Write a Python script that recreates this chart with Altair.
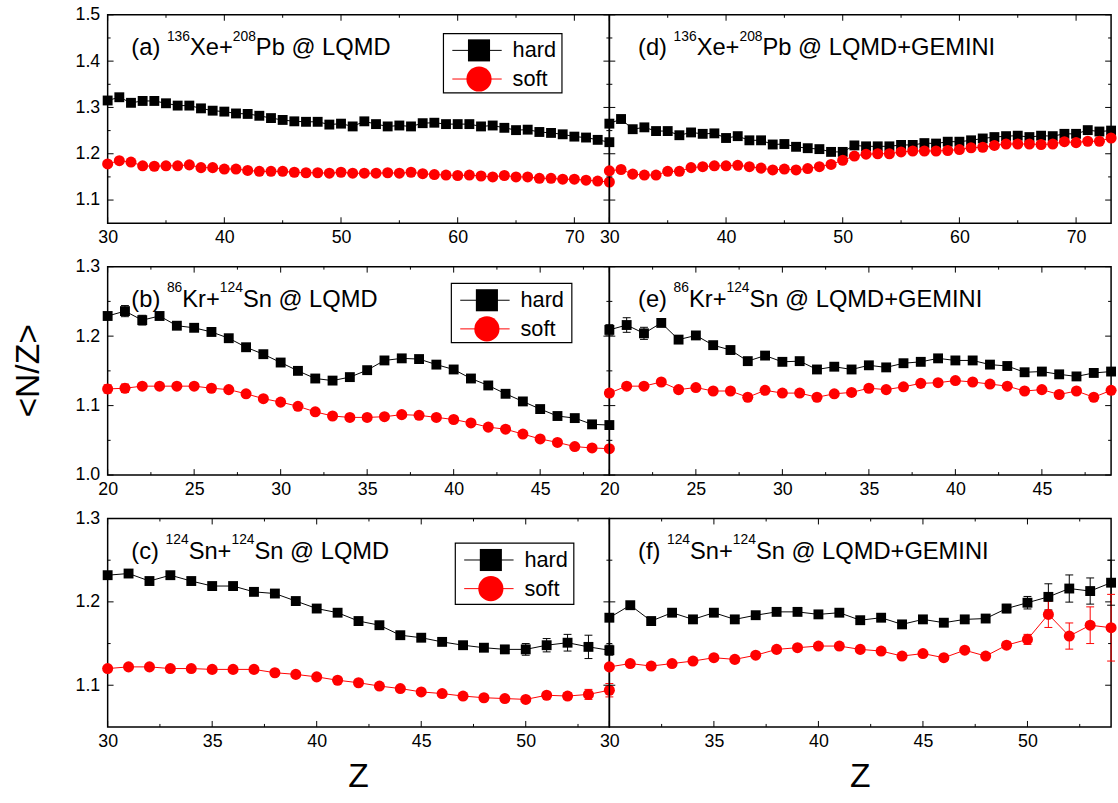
import altair as alt
import pandas as pd

FONT = "Liberation Sans"

# ---------------- data ----------------
Z_A = list(range(30, 74))
A_hard = [1.315, 1.322, 1.310, 1.314, 1.314, 1.309, 1.304, 1.304, 1.298, 1.293, 1.291, 1.287, 1.286, 1.282,
          1.277, 1.273, 1.270, 1.269, 1.269, 1.263, 1.265, 1.259, 1.270, 1.264, 1.259, 1.261, 1.259, 1.266,
          1.267, 1.264, 1.264, 1.264, 1.259, 1.261, 1.256, 1.251, 1.252, 1.247, 1.245, 1.242, 1.237, 1.235,
          1.230, 1.225]
A_soft = [1.178, 1.185, 1.182, 1.174, 1.173, 1.174, 1.174, 1.176, 1.170, 1.170, 1.167, 1.167, 1.164, 1.162,
          1.162, 1.162, 1.160, 1.159, 1.159, 1.158, 1.160, 1.158, 1.158, 1.158, 1.159, 1.158, 1.160, 1.157,
          1.155, 1.154, 1.153, 1.154, 1.152, 1.150, 1.153, 1.150, 1.150, 1.147, 1.147, 1.145, 1.145, 1.143,
          1.141, 1.139]
D_hard = [1.265, 1.275, 1.253, 1.257, 1.249, 1.249, 1.240, 1.246, 1.243, 1.244, 1.234, 1.238, 1.229, 1.229,
          1.220, 1.221, 1.215, 1.212, 1.210, 1.204, 1.204, 1.218, 1.216, 1.216, 1.216, 1.219, 1.219, 1.223,
          1.222, 1.226, 1.226, 1.229, 1.233, 1.236, 1.238, 1.239, 1.236, 1.239, 1.238, 1.243, 1.243, 1.251,
          1.248, 1.250]
D_soft = [1.163, 1.166, 1.156, 1.154, 1.154, 1.162, 1.162, 1.170, 1.172, 1.174, 1.174, 1.175, 1.172, 1.169,
          1.165, 1.167, 1.165, 1.168, 1.172, 1.177, 1.186, 1.195, 1.199, 1.200, 1.200, 1.204, 1.206, 1.206,
          1.206, 1.207, 1.209, 1.213, 1.214, 1.218, 1.221, 1.221, 1.221, 1.220, 1.221, 1.226, 1.224, 1.227,
          1.227, 1.234]
A_err = [0.0] * 44

Z_B = list(range(20, 50))
B_hard = [1.229, 1.236, 1.223, 1.229, 1.215, 1.212, 1.206, 1.197, 1.184, 1.174, 1.162, 1.150, 1.139, 1.136,
          1.141, 1.151, 1.165, 1.168, 1.167, 1.159, 1.152, 1.139, 1.129, 1.117, 1.106, 1.095, 1.085, 1.082,
          1.073, 1.072]
B_soft = [1.124, 1.125, 1.128, 1.128, 1.128, 1.128, 1.125, 1.123, 1.117, 1.110, 1.105, 1.099, 1.091, 1.085,
          1.083, 1.083, 1.084, 1.087, 1.086, 1.083, 1.080, 1.075, 1.069, 1.066, 1.059, 1.052, 1.047, 1.041,
          1.039, 1.038]
B_hard_err = [0.005, 0.008, 0.007, 0.004, 0.002, 0.002, 0.002, 0.002, 0.002, 0.002, 0.002, 0.002, 0.002, 0.002,
              0.002, 0.002, 0.002, 0.002, 0.002, 0.002, 0.002, 0.002, 0.002, 0.002, 0.002, 0.002, 0.002, 0.002,
              0.002, 0.002]
B_soft_err = [0.006, 0.006, 0.003, 0.002, 0.002, 0.002, 0.002, 0.002, 0.002, 0.002, 0.002, 0.002, 0.002, 0.002,
              0.002, 0.002, 0.002, 0.002, 0.002, 0.002, 0.002, 0.002, 0.002, 0.002, 0.002, 0.002, 0.002, 0.002,
              0.002, 0.002]
E_hard = [1.209, 1.216, 1.204, 1.219, 1.195, 1.201, 1.187, 1.180, 1.164, 1.172, 1.163, 1.164, 1.152, 1.156,
          1.152, 1.158, 1.155, 1.161, 1.163, 1.168, 1.165, 1.165, 1.159, 1.157, 1.148, 1.149, 1.145, 1.142,
          1.147, 1.149]
E_soft = [1.118, 1.128, 1.128, 1.134, 1.123, 1.126, 1.121, 1.121, 1.112, 1.122, 1.118, 1.118, 1.112, 1.117,
          1.119, 1.125, 1.123, 1.127, 1.132, 1.133, 1.136, 1.134, 1.131, 1.128, 1.121, 1.123, 1.116, 1.121,
          1.112, 1.122]
E_hard_err = [0.0075, 0.0105, 0.0087, 0.004, 0.003, 0.003, 0.003, 0.003, 0.003, 0.003, 0.003, 0.003, 0.003,
              0.003, 0.003, 0.003, 0.003, 0.003, 0.003, 0.003, 0.003, 0.003, 0.003, 0.003, 0.003, 0.003, 0.003,
              0.003, 0.003, 0.003]
E_soft_err = [0.005, 0.004, 0.002, 0.002, 0.002, 0.002, 0.002, 0.002, 0.002, 0.002, 0.002, 0.002, 0.002, 0.002,
              0.002, 0.002, 0.002, 0.002, 0.002, 0.002, 0.002, 0.002, 0.002, 0.002, 0.002, 0.002, 0.002, 0.002,
              0.002, 0.002]

Z_C = list(range(30, 55))
C_hard = [1.232, 1.234, 1.225, 1.232, 1.225, 1.219, 1.219, 1.212, 1.210, 1.201, 1.192, 1.187, 1.177, 1.172,
          1.160, 1.157, 1.152, 1.148, 1.145, 1.143, 1.143, 1.148, 1.151, 1.146, 1.142]
C_soft = [1.120, 1.122, 1.122, 1.120, 1.120, 1.119, 1.119, 1.119, 1.115, 1.113, 1.110, 1.106, 1.103, 1.099,
          1.096, 1.092, 1.090, 1.087, 1.085, 1.084, 1.083, 1.088, 1.087, 1.089, 1.094]
C_hard_err = [0.002, 0.003, 0.002, 0.002, 0.002, 0.002, 0.002, 0.002, 0.002, 0.002, 0.002, 0.002, 0.002, 0.002,
              0.002, 0.002, 0.002, 0.002, 0.002, 0.004, 0.007, 0.008, 0.010, 0.014, 0.006]
C_soft_err = [0.002, 0.002, 0.002, 0.002, 0.002, 0.002, 0.002, 0.002, 0.002, 0.002, 0.002, 0.002, 0.002, 0.002,
              0.002, 0.002, 0.002, 0.002, 0.002, 0.002, 0.002, 0.002, 0.004, 0.006, 0.008]
F_hard = [1.181, 1.196, 1.177, 1.187, 1.179, 1.187, 1.179, 1.184, 1.188, 1.188, 1.185, 1.187, 1.178, 1.181,
          1.173, 1.179, 1.175, 1.179, 1.180, 1.192, 1.199, 1.206, 1.216, 1.213, 1.223]
F_soft = [1.122, 1.126, 1.123, 1.126, 1.129, 1.133, 1.131, 1.136, 1.143, 1.145, 1.147, 1.147, 1.143, 1.141,
          1.135, 1.138, 1.133, 1.142, 1.135, 1.148, 1.155, 1.185, 1.159, 1.172, 1.169]
F_hard_err = [0.003, 0.003, 0.003, 0.003, 0.003, 0.003, 0.003, 0.003, 0.003, 0.003, 0.003, 0.003, 0.003, 0.003,
              0.003, 0.003, 0.003, 0.003, 0.004, 0.005, 0.0075, 0.0157, 0.0163, 0.0157, 0.027]
F_soft_err = [0.002, 0.002, 0.002, 0.002, 0.002, 0.002, 0.002, 0.002, 0.002, 0.002, 0.002, 0.002, 0.002, 0.002,
              0.002, 0.002, 0.002, 0.002, 0.002, 0.004, 0.006, 0.0157, 0.0157, 0.022, 0.04]

# panel labels: (text, is_superscript)
LABELS = {
    "a": [("(a) ", 0), ("136", 1), ("Xe+", 0), ("208", 1), ("Pb @ LQMD", 0)],
    "d": [("(d) ", 0), ("136", 1), ("Xe+", 0), ("208", 1), ("Pb @ LQMD+GEMINI", 0)],
    "b": [("(b) ", 0), ("86", 1), ("Kr+", 0), ("124", 1), ("Sn @ LQMD", 0)],
    "e": [("(e) ", 0), ("86", 1), ("Kr+", 0), ("124", 1), ("Sn @ LQMD+GEMINI", 0)],
    "c": [("(c) ", 0), ("124", 1), ("Sn+", 0), ("124", 1), ("Sn @ LQMD", 0)],
    "f": [("(f) ", 0), ("124", 1), ("Sn+", 0), ("124", 1), ("Sn @ LQMD+GEMINI", 0)],
}

# axis tick values
XT_A_MAJ = [30, 40, 50, 60, 70]
XT_A_MIN = [35, 45, 55, 65]
YT_A_MAJ = [1.1, 1.2, 1.3, 1.4, 1.5]
YT_A_MIN = [1.15, 1.25, 1.35, 1.45]
XT_B_MAJ = [20, 25, 30, 35, 40, 45]
XT_B_MIN = [22.5, 27.5, 32.5, 37.5, 42.5, 47.5]
YT_B_MAJ = [1.0, 1.1, 1.2, 1.3]
YT_B_MIN = [1.05, 1.15, 1.25]
XT_C_MAJ = [30, 35, 40, 45, 50]
XT_C_MIN = [32.5, 37.5, 42.5, 47.5, 52.5]
YT_C_MAJ = [1.1, 1.2, 1.3]
YT_C_MIN = [1.15, 1.25]

W = 508
H = 211
TMAJ = 6
TMIN = 3
CSCALE = alt.Scale(domain=["hard", "soft"], range=["#000000", "#ff0000"])

# Arial / Liberation Sans advance widths (1/1000 em) for text layout
ADV = {" ": 278, "(": 333, ")": 333, "+": 584, "@": 1015, "a": 556, "b": 556, "c": 500, "d": 556,
       "e": 556, "f": 278, "n": 556, "r": 333, "D": 722, "E": 667, "G": 778, "I": 278, "K": 667,
       "L": 556, "M": 833, "N": 722, "P": 667, "Q": 778, "S": 667, "X": 667}
for _d in "0123456789":
    ADV[_d] = 556


def text_width(s, size):
    return sum(ADV.get(ch, 556) for ch in s) * size / 1000.0


def panel(z, hard, soft, herr, serr, xdom, ydom, xmaj, xmin, ymaj, ymin, label, label_x,
          left, legend=None, xtitle=False, ytitle=False):
    recs = []
    for zi, v, e in zip(z, hard, herr):
        recs.append({"Z": zi, "val": v, "lo": v - e, "hi": v + e, "series": "hard"})
    for zi, v, e in zip(z, soft, serr):
        recs.append({"Z": zi, "val": v, "lo": v - e, "hi": v + e, "series": "soft"})
    df = pd.DataFrame(recs)
    xs = alt.Scale(domain=xdom, nice=False, zero=False)
    ys = alt.Scale(domain=ydom, nice=False, zero=False)
    xaxis = alt.Axis(values=xmaj, format="d", ticks=False, domain=False, grid=False,
                     labelFontSize=18, labelFont=FONT, labelColor="black", labelPadding=6,
                     labelFlush=False, labelOverlap=False, title=None)
    if left:
        yaxis = alt.Axis(values=ymaj, format=".1f", ticks=False, domain=False, grid=False,
                         labelFontSize=18, labelFont=FONT, labelColor="black", labelPadding=8,
                         labelFlush=False, labelOverlap=False, title=None)
    else:
        yaxis = None

    def X(f):
        return alt.X(f, scale=xs, axis=xaxis)

    def Y(f):
        return alt.Y(f, scale=ys, axis=yaxis)

    color = alt.Color("series:N", scale=CSCALE, legend=None)
    base = alt.Chart(df)
    layers = []
    layers.append(base.mark_line(strokeWidth=1).encode(x=X("Z:Q"), y=Y("val:Q"), color=color))
    layers.append(base.mark_rule(strokeWidth=1).encode(
        x=X("Z:Q"), y=Y("lo:Q"), y2="hi:Q", color=color))
    for f in ["lo", "hi"]:
        layers.append(base.mark_rule(strokeWidth=1, xOffset=-4, x2Offset=4).encode(
            x=X("Z:Q"), x2="Z:Q", y=Y(f + ":Q"), color=color))
    layers.append(base.transform_filter(alt.datum.series == "hard").mark_point(
        shape="square", filled=True, size=100, opacity=1, color="#000000").encode(
        x=X("Z:Q"), y=Y("val:Q")))
    layers.append(base.transform_filter(alt.datum.series == "soft").mark_point(
        shape="circle", filled=True, size=125, opacity=1, color="#ff0000").encode(
        x=X("Z:Q"), y=Y("val:Q")))

    # inward ticks on all four sides
    for vals, ln in [(xmaj, TMAJ), (xmin, TMIN)]:
        tdf = pd.DataFrame({"Z": vals})
        for y1, y2 in [(H, H - ln), (0, ln)]:
            layers.append(alt.Chart(tdf).mark_rule(color="black", strokeWidth=1).encode(
                x=X("Z:Q"), y=alt.value(y1), y2=alt.value(y2)))
    for vals, ln in [(ymaj, TMAJ), (ymin, TMIN)]:
        tdf = pd.DataFrame({"val": vals})
        for x1, x2 in [(0, ln), (W, W - ln)]:
            layers.append(alt.Chart(tdf).mark_rule(color="black", strokeWidth=1).encode(
                y=Y("val:Q"), x=alt.value(x1), x2=alt.value(x2)))

    one = pd.DataFrame({"k": [0]})
    # panel label with superscripts
    px = label_x
    for seg, sup in label:
        size = 14 if sup else 24
        yy = 41 - (15 if sup else 0)
        layers.append(alt.Chart(one).mark_text(align="left", baseline="alphabetic", fontSize=size,
                                               font=FONT, color="black").encode(
            x=alt.value(px), y=alt.value(yy), text=alt.value(seg.strip())))
        px += text_width(seg, size)

    if legend is not None:
        bx, by, bw, bh = legend
        layers.append(alt.Chart(one).mark_rect(fill="white", stroke="black", strokeWidth=1.2).encode(
            x=alt.value(bx), x2=alt.value(bx + bw), y=alt.value(by), y2=alt.value(by + bh)))
        for name, col, shp, sz, dy in [("hard", "#000000", "square", 500, 17),
                                       ("soft", "#ff0000", "circle", 650, 46)]:
            layers.append(alt.Chart(one).mark_rule(color=col, strokeWidth=1).encode(
                x=alt.value(bx + 9), x2=alt.value(bx + 59), y=alt.value(by + dy)))
            layers.append(alt.Chart(one).mark_point(shape=shp, filled=True, size=sz, opacity=1,
                                                    color=col).encode(
                x=alt.value(bx + 36), y=alt.value(by + dy)))
            layers.append(alt.Chart(one).mark_text(align="left", baseline="middle", fontSize=22,
                                                   font=FONT, color="black").encode(
                x=alt.value(bx + 70), y=alt.value(by + dy), text=alt.value(name)))

    if ytitle:
        layers.append(alt.Chart(one).mark_text(align="center", baseline="middle", fontSize=34,
                                               font=FONT, angle=270, color="black").encode(
            x=alt.value(-80), y=alt.value(H / 2), text=alt.value("<N/Z>")))
    if xtitle:
        layers.append(alt.Chart(one).mark_text(align="center", baseline="middle", fontSize=34,
                                               font=FONT, color="black").encode(
            x=alt.value(W / 2), y=alt.value(H + 51), text=alt.value("Z")))
    return alt.layer(*layers).properties(width=W, height=H)


pa = panel(Z_A, A_hard, A_soft, A_err, A_err, [30, 73], [1.05, 1.5], XT_A_MAJ, XT_A_MIN,
           YT_A_MAJ, YT_A_MIN, LABELS["a"], 24, True, legend=(340, 19, 120, 60))
pdd = panel(Z_A, D_hard, D_soft, A_err, A_err, [30, 73], [1.05, 1.5], XT_A_MAJ, XT_A_MIN,
            YT_A_MAJ, YT_A_MIN, LABELS["d"], 29, False)
pb = panel(Z_B, B_hard, B_soft, B_hard_err, B_soft_err, [20, 49], [1.0, 1.3], XT_B_MAJ, XT_B_MIN,
           YT_B_MAJ, YT_B_MIN, LABELS["b"], 24, True, legend=(348, 17, 122, 60), ytitle=True)
pe = panel(Z_B, E_hard, E_soft, E_hard_err, E_soft_err, [20, 49], [1.0, 1.3], XT_B_MAJ, XT_B_MIN,
           YT_B_MAJ, YT_B_MIN, LABELS["e"], 29, False)
pc = panel(Z_C, C_hard, C_soft, C_hard_err, C_soft_err, [30, 54], [1.05, 1.3], XT_C_MAJ, XT_C_MIN,
           YT_C_MAJ, YT_C_MIN, LABELS["c"], 24, True, legend=(352, 25, 120, 62), xtitle=True)
pf = panel(Z_C, F_hard, F_soft, F_hard_err, F_soft_err, [30, 54], [1.05, 1.3], XT_C_MAJ, XT_C_MIN,
           YT_C_MAJ, YT_C_MIN, LABELS["f"], 29, False, xtitle=True)

chart = alt.concat(pa, pdd, pb, pe, pc, pf, columns=2,
                   spacing={"row": 44, "column": 0}, bounds="flush").properties(
    padding={"left": 11, "top": 0, "right": 0, "bottom": 0}
).configure(font=FONT, background="white").configure_view(stroke="black", strokeWidth=1.5)

chart.save("out.html", embed_options={"renderer": "svg", "actions": False})
